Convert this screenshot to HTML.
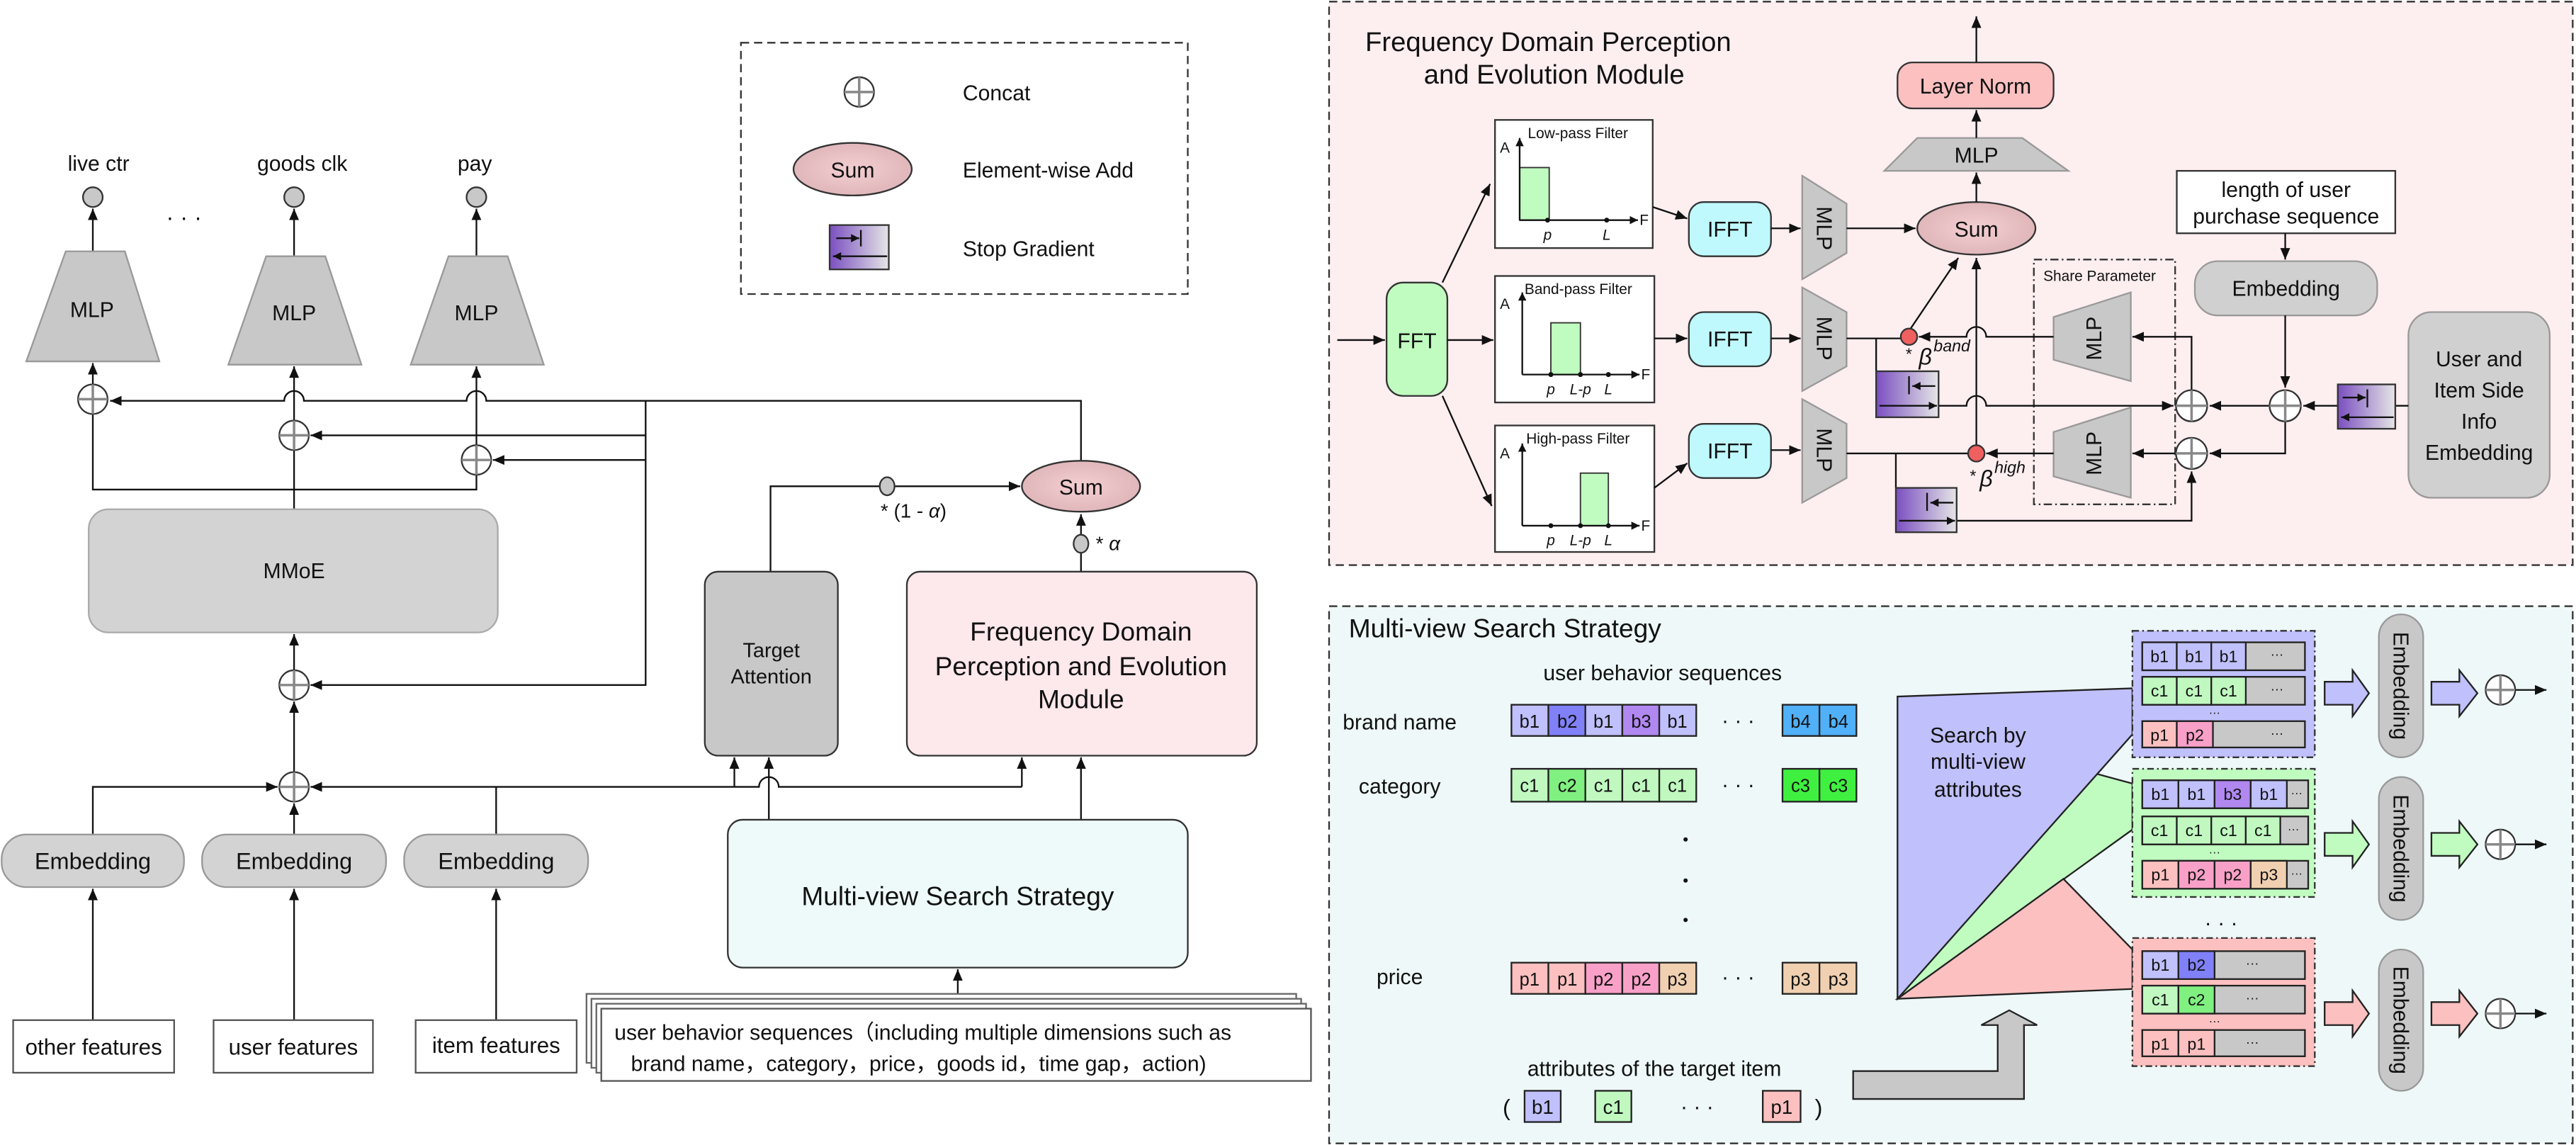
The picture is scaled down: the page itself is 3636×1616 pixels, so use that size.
<!DOCTYPE html>
<html><head><meta charset="utf-8"><style>
html,body{margin:0;padding:0;background:#fff;}
svg{display:block;}
text{font-family:"Liberation Sans","Noto Sans CJK SC",sans-serif;fill:#111;}
</style></head><body>
<svg width="3636" height="1616" viewBox="0 0 1568 697" preserveAspectRatio="none" xmlns="http://www.w3.org/2000/svg">
<defs>
<marker id="a" markerWidth="8" markerHeight="8" refX="7" refY="3" orient="auto" markerUnits="userSpaceOnUse"><path d="M0,0 L7,3 L0,6z" fill="#111"/></marker>
<marker id="s" markerWidth="6" markerHeight="6" refX="5" refY="2.5" orient="auto" markerUnits="userSpaceOnUse"><path d="M0,0 L5,2.5 L0,5z" fill="#111"/></marker>
<g id="cc"><circle r="9" fill="#fff" stroke="#333" stroke-width="1"/><line x1="-9" y1="0" x2="9" y2="0" stroke="#888" stroke-width="1.5"/><line x1="0" y1="-9" x2="0" y2="9" stroke="#888" stroke-width="1.5"/></g>
<g id="cs"><circle r="9.5" fill="#fff" stroke="#333" stroke-width="1"/><line x1="-9.5" y1="0" x2="9.5" y2="0" stroke="#888" stroke-width="1.5"/><line x1="0" y1="-9.5" x2="0" y2="9.5" stroke="#888" stroke-width="1.5"/></g>
<linearGradient id="sg" x1="0" y1="0" x2="1" y2="0"><stop offset="0" stop-color="#7a4fc0"/><stop offset="1" stop-color="#e6e6e6"/></linearGradient>
<radialGradient id="sum" cx="0.5" cy="0.5" r="0.6"><stop offset="0" stop-color="#f3cfd2"/><stop offset="1" stop-color="#dcb2b6"/></radialGradient>
</defs>

<!-- ===== LEFT ===== -->
<rect x="451" y="26" width="272" height="153" fill="none" stroke="#333" stroke-dasharray="5,3"/>
<use href="#cc" x="523" y="56"/>
<text x="586" y="61" font-size="13">Concat</text>
<ellipse cx="519" cy="103" rx="36" ry="16" fill="url(#sum)" stroke="#333"/>
<text x="519" y="108" font-size="13" text-anchor="middle">Sum</text>
<text x="586" y="108" font-size="13">Element-wise Add</text>
<rect x="505" y="137" width="36" height="27" fill="url(#sg)" stroke="#333"/>
<line x1="524" y1="140" x2="524" y2="150" stroke="#111"/>
<path d="M509,145 H523" stroke="#111" marker-end="url(#s)"/>
<path d="M540,156 H507" stroke="#111" marker-end="url(#s)"/>
<text x="586" y="156" font-size="13">Stop Gradient</text>

<text x="60" y="104" font-size="13" text-anchor="middle">live ctr</text>
<text x="184" y="104" font-size="13" text-anchor="middle">goods clk</text>
<text x="289" y="104" font-size="13" text-anchor="middle">pay</text>
<circle cx="56.5" cy="120" r="6" fill="#c8c8c8" stroke="#333"/>
<circle cx="179" cy="120" r="6" fill="#c8c8c8" stroke="#333"/>
<circle cx="290" cy="120" r="6" fill="#c8c8c8" stroke="#333"/>
<text x="112" y="137" font-size="14" text-anchor="middle">· · ·</text>
<g stroke="#111" fill="none">
<path d="M56.5,153 V127" marker-end="url(#a)"/>
<path d="M179,156 V127" marker-end="url(#a)"/>
<path d="M290,156 V127" marker-end="url(#a)"/>
</g>
<polygon points="40,153 76,153 97,220 16,220" fill="#c8c8c8" stroke="#999"/>
<polygon points="162,156 198,156 220,222 139,222" fill="#c8c8c8" stroke="#999"/>
<polygon points="273,156 309,156 331,222 250,222" fill="#c8c8c8" stroke="#999"/>
<text x="56" y="193" font-size="13" text-anchor="middle">MLP</text>
<text x="179" y="195" font-size="13" text-anchor="middle">MLP</text>
<text x="290" y="195" font-size="13" text-anchor="middle">MLP</text>

<g stroke="#111" fill="none" stroke-width="1">
<path d="M658,281 V244 H296 A6,6 0 0 0 284,244 H185 A6,6 0 0 0 173,244 H67" marker-end="url(#a)"/>
<path d="M393,244 V417 H189" marker-end="url(#a)"/>
<path d="M393,265 H189" marker-end="url(#a)"/>
<path d="M393,280 H300" marker-end="url(#a)"/>
<path d="M56.5,252 V298 H290 V289"/>
<path d="M179,310 V274"/>
<path d="M179,256 V223" marker-end="url(#a)"/>
<path d="M290,271 V223" marker-end="url(#a)"/>
<path d="M56.5,234 V221" marker-end="url(#a)"/>
<path d="M179,408 V386" marker-end="url(#a)"/>
<path d="M179,470 V427" marker-end="url(#a)"/>
<path d="M56.5,508 V479 H169" marker-end="url(#a)"/>
<path d="M179,508 V489" marker-end="url(#a)"/>
<path d="M622,479 H474 A6,6 0 0 0 462,479 H189" marker-end="url(#a)"/>
<path d="M302,508 V479"/>
<path d="M447,479 V461" marker-end="url(#a)"/>
<path d="M622,479 V461" marker-end="url(#a)"/>
<path d="M468,499 V461" marker-end="url(#a)"/>
<path d="M658,499 V461" marker-end="url(#a)"/>
<path d="M469,348 V296 H621" marker-end="url(#a)"/>
<path d="M658,348 V313" marker-end="url(#a)"/>
<path d="M56.5,621 V541" marker-end="url(#a)"/>
<path d="M179,621 V541" marker-end="url(#a)"/>
<path d="M302,621 V541" marker-end="url(#a)"/>
<path d="M583,616 V590" marker-end="url(#a)"/>
</g>
<use href="#cc" x="56.5" y="243"/>
<use href="#cc" x="179" y="265"/>
<use href="#cc" x="290" y="280"/>
<use href="#cc" x="179" y="417"/>
<use href="#cc" x="179" y="479"/>

<rect x="54" y="310" width="249" height="75" rx="12" fill="#d3d3d3" stroke="#aaa"/>
<text x="179" y="352" font-size="13" text-anchor="middle">MMoE</text>

<rect x="1" y="508" width="111" height="32" rx="15" fill="#d3d3d3" stroke="#999"/>
<rect x="123" y="508" width="112" height="32" rx="15" fill="#d3d3d3" stroke="#999"/>
<rect x="246" y="508" width="112" height="32" rx="15" fill="#d3d3d3" stroke="#999"/>
<text x="56.5" y="529" font-size="14" text-anchor="middle">Embedding</text>
<text x="179" y="529" font-size="14" text-anchor="middle">Embedding</text>
<text x="302" y="529" font-size="14" text-anchor="middle">Embedding</text>

<rect x="8" y="621" width="98" height="32" fill="#fff" stroke="#555"/>
<rect x="130" y="621" width="97" height="32" fill="#fff" stroke="#555"/>
<rect x="253" y="621" width="98" height="32" fill="#fff" stroke="#555"/>
<text x="57" y="642" font-size="13.5" text-anchor="middle">other features</text>
<text x="178.5" y="642" font-size="13.5" text-anchor="middle">user features</text>
<text x="302" y="641" font-size="13.5" text-anchor="middle">item features</text>

<ellipse cx="540" cy="296" rx="4.5" ry="5.5" fill="#c8c8c8" stroke="#333"/>
<text x="536" y="315" font-size="12">* (1  -  <tspan font-style="italic">α</tspan>)</text>
<ellipse cx="658" cy="331" rx="4.5" ry="5.5" fill="#c8c8c8" stroke="#333"/>
<text x="667" y="335" font-size="12">* <tspan font-style="italic">α</tspan></text>
<ellipse cx="658" cy="296" rx="36" ry="15.5" fill="url(#sum)" stroke="#333"/>
<text x="658" y="301" font-size="13" text-anchor="middle">Sum</text>

<rect x="429" y="348" width="81" height="112" rx="8" fill="#c8c8c8" stroke="#333"/>
<text x="469.5" y="400" font-size="12.5" text-anchor="middle">Target</text>
<text x="469.5" y="416" font-size="12.5" text-anchor="middle">Attention</text>
<rect x="552" y="348" width="213" height="112" rx="8" fill="#fde8ec" stroke="#333"/>
<text x="658" y="390" font-size="16" text-anchor="middle">Frequency Domain</text>
<text x="658" y="411" font-size="16" text-anchor="middle">Perception and Evolution</text>
<text x="658" y="431" font-size="16" text-anchor="middle">Module</text>
<rect x="443" y="499" width="280" height="90" rx="9" fill="#eefafa" stroke="#333"/>
<text x="583" y="551" font-size="16" text-anchor="middle">Multi-view Search Strategy</text>

<rect x="357" y="605" width="432" height="42" fill="#fff" stroke="#666"/>
<rect x="360" y="608" width="432" height="42" fill="#fff" stroke="#666"/>
<rect x="363" y="611" width="432" height="42" fill="#fff" stroke="#666"/>
<rect x="366" y="614" width="432" height="44" fill="#fff" stroke="#555"/>
<text x="374" y="633" font-size="13">user behavior sequences（including multiple dimensions such as</text>
<text x="384" y="652" font-size="13">brand name，category，price，goods id，time gap，action)</text>

<!-- ===== TOP RIGHT ===== -->
<rect x="809" y="1" width="757" height="343" fill="#fdeef0" stroke="#333" stroke-dasharray="5,3"/>
<text x="831" y="31" font-size="16.5">Frequency Domain Perception</text>
<text x="946" y="51" font-size="16.5" text-anchor="middle">and Evolution Module</text>

<rect x="1155" y="38" width="95" height="28" rx="9" fill="#fcc0c0" stroke="#333"/>
<text x="1202.5" y="57" font-size="13" text-anchor="middle">Layer Norm</text>
<polygon points="1167,84 1231,84 1259,104 1147,104" fill="#c8c8c8" stroke="#999"/>
<text x="1203" y="99" font-size="13" text-anchor="middle">MLP</text>
<ellipse cx="1203" cy="139" rx="36" ry="16" fill="url(#sum)" stroke="#333"/>
<text x="1203" y="144" font-size="13" text-anchor="middle">Sum</text>

<!-- filters -->
<g font-size="9">
<rect x="910" y="73" width="96" height="78" fill="#fff" stroke="#333"/>
<text x="930" y="84">Low-pass Filter</text><text x="913" y="93">A</text>
<rect x="925" y="102" width="18" height="32" fill="#c0fcc0" stroke="#333" stroke-width="0.8"/>
<path d="M925,134 V84" stroke="#111" marker-end="url(#s)"/>
<path d="M925,134 H997" stroke="#111" marker-end="url(#s)"/>
<text x="998" y="137">F</text>
<circle cx="942" cy="134" r="1.5" fill="#111"/><circle cx="978" cy="134" r="1.5" fill="#111"/>
<text x="942" y="146" font-style="italic" text-anchor="middle">p</text><text x="978" y="146" font-style="italic" text-anchor="middle">L</text>

<rect x="910" y="168" width="97" height="77" fill="#fff" stroke="#333"/>
<text x="928" y="179">Band-pass Filter</text><text x="913" y="188">A</text>
<rect x="944" y="196.5" width="18" height="31.5" fill="#c0fcc0" stroke="#333" stroke-width="0.8"/>
<path d="M926.6,228 V178" stroke="#111" marker-end="url(#s)"/>
<path d="M926.6,228 H998" stroke="#111" marker-end="url(#s)"/>
<text x="999" y="231">F</text>
<circle cx="944" cy="228" r="1.5" fill="#111"/><circle cx="962" cy="228" r="1.5" fill="#111"/><circle cx="979" cy="228" r="1.5" fill="#111"/>
<text x="944" y="240" font-style="italic" text-anchor="middle">p</text><text x="962" y="240" font-style="italic" text-anchor="middle">L-p</text><text x="979" y="240" font-style="italic" text-anchor="middle">L</text>

<rect x="910" y="259" width="97" height="77" fill="#fff" stroke="#333"/>
<text x="929" y="270">High-pass Filter</text><text x="913" y="279">A</text>
<rect x="962" y="288" width="17" height="32" fill="#c0fcc0" stroke="#333" stroke-width="0.8"/>
<path d="M926.6,320 V270" stroke="#111" marker-end="url(#s)"/>
<path d="M926.6,320 H998" stroke="#111" marker-end="url(#s)"/>
<text x="999" y="323">F</text>
<circle cx="944" cy="320" r="1.5" fill="#111"/><circle cx="962" cy="320" r="1.5" fill="#111"/><circle cx="979" cy="320" r="1.5" fill="#111"/>
<text x="944" y="332" font-style="italic" text-anchor="middle">p</text><text x="962" y="332" font-style="italic" text-anchor="middle">L-p</text><text x="979" y="332" font-style="italic" text-anchor="middle">L</text>
</g>

<rect x="844" y="172" width="37" height="69" rx="10" fill="#c0fcc0" stroke="#333"/>
<text x="862.5" y="212" font-size="13" text-anchor="middle">FFT</text>
<rect x="1028" y="123" width="50" height="33" rx="9" fill="#bff9fd" stroke="#333"/>
<rect x="1028" y="190" width="50" height="33" rx="9" fill="#bff9fd" stroke="#333"/>
<rect x="1028" y="258" width="50" height="33" rx="9" fill="#bff9fd" stroke="#333"/>
<text x="1053" y="144" font-size="13" text-anchor="middle">IFFT</text>
<text x="1053" y="211" font-size="13" text-anchor="middle">IFFT</text>
<text x="1053" y="279" font-size="13" text-anchor="middle">IFFT</text>

<polygon points="1097,107 1124,124 1124,154 1097,170" fill="#c8c8c8" stroke="#999"/>
<polygon points="1097,175 1124,190 1124,223 1097,238" fill="#c8c8c8" stroke="#999"/>
<polygon points="1097,243 1124,258 1124,291 1097,306" fill="#c8c8c8" stroke="#999"/>
<text transform="translate(1106,139) rotate(90)" font-size="13" text-anchor="middle">MLP</text>
<text transform="translate(1106,206) rotate(90)" font-size="13" text-anchor="middle">MLP</text>
<text transform="translate(1106,274) rotate(90)" font-size="13" text-anchor="middle">MLP</text>

<rect x="1238" y="158" width="86" height="149" fill="none" stroke="#333" stroke-dasharray="5,2,1,2"/>
<text x="1278" y="171" font-size="9" text-anchor="middle">Share Parameter</text>
<polygon points="1250,193 1297,178 1297,232 1250,219" fill="#c8c8c8" stroke="#999"/>
<polygon points="1250,263 1297,248 1297,303 1250,290" fill="#c8c8c8" stroke="#999"/>
<text transform="translate(1279,206) rotate(-90)" font-size="13" text-anchor="middle">MLP</text>
<text transform="translate(1279,276) rotate(-90)" font-size="13" text-anchor="middle">MLP</text>

<rect x="1325" y="104" width="133" height="38" fill="#fff" stroke="#333"/>
<text x="1391.5" y="120" font-size="13" text-anchor="middle">length of user</text>
<text x="1391.5" y="136" font-size="13" text-anchor="middle">purchase sequence</text>
<rect x="1336" y="159" width="111" height="33" rx="14" fill="#d0d0d0" stroke="#999"/>
<text x="1391.5" y="180" font-size="13" text-anchor="middle">Embedding</text>
<rect x="1466" y="190" width="86" height="113" rx="14" fill="#d0d0d0" stroke="#999"/>
<text x="1509" y="223" font-size="13" text-anchor="middle">User and</text>
<text x="1509" y="242" font-size="13" text-anchor="middle">Item Side</text>
<text x="1509" y="261" font-size="13" text-anchor="middle">Info</text>
<text x="1509" y="280" font-size="13" text-anchor="middle">Embedding</text>

<g stroke="#111" fill="none">
<path d="M1203,123 V105" marker-end="url(#a)"/>
<path d="M1203,84 V67" marker-end="url(#a)"/>
<path d="M1203,38 V10" marker-end="url(#a)"/>
<path d="M814,207 H843" marker-end="url(#a)"/>
<path d="M881,207 H909" marker-end="url(#a)"/>
<path d="M878,172 L907,112" marker-end="url(#a)"/>
<path d="M878,241 L908,308" marker-end="url(#a)"/>
<path d="M1006,126 L1027,133" marker-end="url(#a)"/>
<path d="M1007,206 H1027" marker-end="url(#a)"/>
<path d="M1007,297 L1027,282" marker-end="url(#a)"/>
<path d="M1078,139 H1096" marker-end="url(#a)"/>
<path d="M1078,206 H1096" marker-end="url(#a)"/>
<path d="M1078,274 H1096" marker-end="url(#a)"/>
<path d="M1124,139 H1166" marker-end="url(#a)"/>
<path d="M1124,206 H1157"/>
<path d="M1163,200 L1192,157" marker-end="url(#a)"/>
<path d="M1142,206 V226"/>
<path d="M1180,247 H1197 A6,6 0 0 1 1209,247 H1323" marker-end="url(#a)"/>
<path d="M1124,276 H1198"/>
<path d="M1203,271 V157" marker-end="url(#a)"/>
<path d="M1250,205 H1209 A6,6 0 0 0 1197,205 H1168" marker-end="url(#a)"/>
<path d="M1154,276 V297"/>
<path d="M1191,317 H1334 V287" marker-end="url(#a)"/>
<path d="M1324,276 H1298" marker-end="url(#a)"/>
<path d="M1250,276 H1209" marker-end="url(#a)"/>
<path d="M1334,237 V205 H1298" marker-end="url(#a)"/>
<path d="M1381,247 H1345" marker-end="url(#a)"/>
<path d="M1391,257 V276 H1345" marker-end="url(#a)"/>
<path d="M1391,192 V236" marker-end="url(#a)"/>
<path d="M1391,142 V158" marker-end="url(#a)"/>
<path d="M1423,247 H1402" marker-end="url(#a)"/>
<path d="M1466,247 H1458"/>
</g>
<circle cx="1162" cy="205" r="5" fill="#f06060" stroke="#333"/>
<circle cx="1203" cy="276" r="5" fill="#f06060" stroke="#333"/>
<text x="1160" y="219" font-size="10">*</text><text x="1168" y="222" font-size="14" font-style="italic">β</text><text x="1177" y="214" font-size="10" font-style="italic">band</text>
<text x="1199" y="293" font-size="10">*</text><text x="1205" y="296" font-size="14" font-style="italic">β</text><text x="1214" y="288" font-size="10" font-style="italic">high</text>
<use href="#cs" x="1334" y="247"/>
<use href="#cs" x="1391" y="247"/>
<use href="#cs" x="1334" y="276"/>
<!-- stop icons -->
<rect x="1142" y="226" width="38" height="28" fill="url(#sg)" stroke="#333"/>
<line x1="1162" y1="229" x2="1162" y2="240" stroke="#111"/>
<path d="M1178,235 H1164" stroke="#111" marker-end="url(#s)"/>
<path d="M1144,247 H1179" stroke="#111" marker-end="url(#s)"/>
<rect x="1154" y="297" width="37" height="27" fill="url(#sg)" stroke="#333"/>
<line x1="1173" y1="300" x2="1173" y2="311" stroke="#111"/>
<path d="M1189,306 H1175" stroke="#111" marker-end="url(#s)"/>
<path d="M1156,317 H1190" stroke="#111" marker-end="url(#s)"/>
<rect x="1423" y="234" width="35" height="27" fill="url(#sg)" stroke="#333"/>
<line x1="1441" y1="237" x2="1441" y2="248" stroke="#111"/>
<path d="M1426,242 H1440" stroke="#111" marker-end="url(#s)"/>
<path d="M1457,254 H1425" stroke="#111" marker-end="url(#s)"/>

<!-- ===== BOTTOM RIGHT ===== -->
<rect x="809" y="369" width="757" height="327" fill="#eef8f8" stroke="#333" stroke-dasharray="5,3"/>
<text x="821" y="388" font-size="16">Multi-view Search Strategy</text>
<text x="1012" y="414" font-size="13" text-anchor="middle">user behavior sequences</text>
<text x="852" y="444" font-size="13" text-anchor="middle">brand name</text>
<text x="852" y="483" font-size="13" text-anchor="middle">category</text>
<text x="852" y="599" font-size="13" text-anchor="middle">price</text>

<g font-size="11" text-anchor="middle" stroke-width="1">
<!-- brand row -->
<rect x="920" y="429" width="22.5" height="19" fill="#c0c0fc" stroke="#222"/><text x="931" y="443">b1</text>
<rect x="942.5" y="429" width="22.5" height="19" fill="#8080f8" stroke="#222"/><text x="954" y="443">b2</text>
<rect x="965" y="429" width="22.5" height="19" fill="#c0c0fc" stroke="#222"/><text x="976" y="443">b1</text>
<rect x="987.5" y="429" width="22.5" height="19" fill="#b088f0" stroke="#222"/><text x="999" y="443">b3</text>
<rect x="1010" y="429" width="22.5" height="19" fill="#c0c0fc" stroke="#222"/><text x="1021" y="443">b1</text>
<rect x="1085" y="429" width="22.5" height="19" fill="#50b0f8" stroke="#222"/><text x="1096" y="443">b4</text>
<rect x="1107.5" y="429" width="22.5" height="19" fill="#50b0f8" stroke="#222"/><text x="1119" y="443">b4</text>
<!-- category -->
<rect x="920" y="468" width="22.5" height="20" fill="#c0f8c0" stroke="#222"/><text x="931" y="482">c1</text>
<rect x="942.5" y="468" width="22.5" height="20" fill="#80f080" stroke="#222"/><text x="954" y="482">c2</text>
<rect x="965" y="468" width="22.5" height="20" fill="#c0f8c0" stroke="#222"/><text x="976" y="482">c1</text>
<rect x="987.5" y="468" width="22.5" height="20" fill="#c0f8c0" stroke="#222"/><text x="999" y="482">c1</text>
<rect x="1010" y="468" width="22.5" height="20" fill="#c0f8c0" stroke="#222"/><text x="1021" y="482">c1</text>
<rect x="1085" y="468" width="22.5" height="20" fill="#40f040" stroke="#222"/><text x="1096" y="482">c3</text>
<rect x="1107.5" y="468" width="22.5" height="20" fill="#40f040" stroke="#222"/><text x="1119" y="482">c3</text>
<!-- price -->
<rect x="920" y="586" width="22.5" height="19" fill="#fcc0c0" stroke="#222"/><text x="931" y="600">p1</text>
<rect x="942.5" y="586" width="22.5" height="19" fill="#fcc0c0" stroke="#222"/><text x="954" y="600">p1</text>
<rect x="965" y="586" width="22.5" height="19" fill="#f8a0c8" stroke="#222"/><text x="976" y="600">p2</text>
<rect x="987.5" y="586" width="22.5" height="19" fill="#f8a0c8" stroke="#222"/><text x="999" y="600">p2</text>
<rect x="1010" y="586" width="22.5" height="19" fill="#f0d0b0" stroke="#222"/><text x="1021" y="600">p3</text>
<rect x="1085" y="586" width="22.5" height="19" fill="#f0d0b0" stroke="#222"/><text x="1096" y="600">p3</text>
<rect x="1107.5" y="586" width="22.5" height="19" fill="#f0d0b0" stroke="#222"/><text x="1119" y="600">p3</text>
</g>
<text x="1058" y="443" font-size="13" text-anchor="middle">· · ·</text>
<text x="1058" y="482" font-size="13" text-anchor="middle">· · ·</text>
<text x="1058" y="599" font-size="13" text-anchor="middle">· · ·</text>
<circle cx="1026" cy="511" r="1.3" fill="#111"/><circle cx="1026" cy="536" r="1.3" fill="#111"/><circle cx="1026" cy="560" r="1.3" fill="#111"/>

<!-- triangles -->
<polygon points="1155,608 1276,471 1298,477 1298,505" fill="#c0fcc0" stroke="#222"/>
<polygon points="1155,608 1256,535 1298,578 1298,602" fill="#fcc0c0" stroke="#222"/>
<polygon points="1155,424 1298,419 1298,447 1155,608" fill="#c0c0fc" stroke="#222"/>
<text x="1204" y="452" font-size="13" text-anchor="middle">Search by</text>
<text x="1204" y="468" font-size="13" text-anchor="middle">multi-view</text>
<text x="1204" y="485" font-size="13" text-anchor="middle">attributes</text>

<polygon points="1128,652 1216,652 1216,624 1206,624 1223,615 1240,624 1232,624 1232,669 1128,669" fill="#c8c8c8" stroke="#222"/>
<text x="1007" y="655" font-size="13" text-anchor="middle">attributes of the target item</text>
<text x="917" y="679" font-size="14" text-anchor="middle">(</text>
<text x="1107" y="679" font-size="14" text-anchor="middle">)</text>
<rect x="928" y="664" width="22" height="19" fill="#c0c0fc" stroke="#222"/><text x="939" y="678" font-size="12" text-anchor="middle">b1</text>
<rect x="971" y="664" width="22" height="19" fill="#c0f8c0" stroke="#222"/><text x="982" y="678" font-size="12" text-anchor="middle">c1</text>
<text x="1033" y="678" font-size="13" text-anchor="middle">· · ·</text>
<rect x="1073" y="664" width="23" height="19" fill="#fcc0c0" stroke="#222"/><text x="1084.5" y="678" font-size="12" text-anchor="middle">p1</text>

<!-- groups -->
<rect x="1298" y="384" width="111" height="77" fill="#c0c0fc" stroke="#333" stroke-dasharray="4,2,1,2"/>
<rect x="1298" y="468" width="111" height="78" fill="#c0fcc0" stroke="#333" stroke-dasharray="4,2,1,2"/>
<rect x="1298" y="571" width="111" height="78" fill="#fcc0c0" stroke="#333" stroke-dasharray="4,2,1,2"/>
<g font-size="10" text-anchor="middle">
<!-- g1 -->
<rect x="1304" y="391" width="99" height="17" fill="#c8c8c8" stroke="#222"/>
<rect x="1304" y="391" width="21" height="17" fill="#c0c0fc" stroke="#222"/><text x="1314.5" y="403">b1</text>
<rect x="1325" y="391" width="21" height="17" fill="#c0c0fc" stroke="#222"/><text x="1335.5" y="403">b1</text>
<rect x="1346" y="391" width="21" height="17" fill="#c0c0fc" stroke="#222"/><text x="1356.5" y="403">b1</text>
<text x="1386" y="401" font-size="8">···</text>
<rect x="1304" y="412" width="99" height="17" fill="#c8c8c8" stroke="#222"/>
<rect x="1304" y="412" width="21" height="17" fill="#c0f8c0" stroke="#222"/><text x="1314.5" y="424">c1</text>
<rect x="1325" y="412" width="21" height="17" fill="#c0f8c0" stroke="#222"/><text x="1335.5" y="424">c1</text>
<rect x="1346" y="412" width="21" height="17" fill="#c0f8c0" stroke="#222"/><text x="1356.5" y="424">c1</text>
<text x="1386" y="422" font-size="8">···</text>
<text x="1348" y="436" font-size="7">···</text>
<rect x="1304" y="439" width="99" height="16" fill="#c8c8c8" stroke="#222"/>
<rect x="1304" y="439" width="21" height="16" fill="#fcc0c0" stroke="#222"/><text x="1314.5" y="451">p1</text>
<rect x="1325" y="439" width="22" height="16" fill="#f8a0c8" stroke="#222"/><text x="1336" y="451">p2</text>
<text x="1386" y="449" font-size="8">···</text>
<!-- g2 -->
<rect x="1304" y="475" width="101" height="17" fill="#c8c8c8" stroke="#222"/>
<rect x="1304" y="475" width="22" height="17" fill="#c0c0fc" stroke="#222"/><text x="1315" y="487">b1</text>
<rect x="1326" y="475" width="22" height="17" fill="#c0c0fc" stroke="#222"/><text x="1337" y="487">b1</text>
<rect x="1348" y="475" width="22" height="17" fill="#b088f0" stroke="#222"/><text x="1359" y="487">b3</text>
<rect x="1370" y="475" width="22" height="17" fill="#c0c0fc" stroke="#222"/><text x="1381" y="487">b1</text>
<text x="1398" y="485" font-size="7">···</text>
<rect x="1304" y="497" width="101" height="17" fill="#c8c8c8" stroke="#222"/>
<rect x="1304" y="497" width="21" height="17" fill="#c0f8c0" stroke="#222"/><text x="1314.5" y="509">c1</text>
<rect x="1325" y="497" width="21" height="17" fill="#c0f8c0" stroke="#222"/><text x="1335.5" y="509">c1</text>
<rect x="1346" y="497" width="21" height="17" fill="#c0f8c0" stroke="#222"/><text x="1356.5" y="509">c1</text>
<rect x="1367" y="497" width="21" height="17" fill="#c0f8c0" stroke="#222"/><text x="1377.5" y="509">c1</text>
<text x="1396" y="507" font-size="7">···</text>
<text x="1348" y="521" font-size="7">···</text>
<rect x="1304" y="524" width="101" height="17" fill="#c8c8c8" stroke="#222"/>
<rect x="1304" y="524" width="22" height="17" fill="#fcc0c0" stroke="#222"/><text x="1315" y="536">p1</text>
<rect x="1326" y="524" width="22" height="17" fill="#f8a0c8" stroke="#222"/><text x="1337" y="536">p2</text>
<rect x="1348" y="524" width="22" height="17" fill="#f8a0c8" stroke="#222"/><text x="1359" y="536">p2</text>
<rect x="1370" y="524" width="22" height="17" fill="#f0d0b0" stroke="#222"/><text x="1381" y="536">p3</text>
<text x="1398" y="534" font-size="7">···</text>
<!-- g3 -->
<rect x="1304" y="579" width="99" height="17" fill="#c8c8c8" stroke="#222"/>
<rect x="1304" y="579" width="22" height="17" fill="#c0c0fc" stroke="#222"/><text x="1315" y="591">b1</text>
<rect x="1326" y="579" width="22" height="17" fill="#8080f8" stroke="#222"/><text x="1337" y="591">b2</text>
<text x="1371" y="589" font-size="8">···</text>
<rect x="1304" y="600" width="99" height="17" fill="#c8c8c8" stroke="#222"/>
<rect x="1304" y="600" width="22" height="17" fill="#c0f8c0" stroke="#222"/><text x="1315" y="612">c1</text>
<rect x="1326" y="600" width="22" height="17" fill="#80f080" stroke="#222"/><text x="1337" y="612">c2</text>
<text x="1371" y="610" font-size="8">···</text>
<text x="1348" y="624" font-size="7">···</text>
<rect x="1304" y="627" width="99" height="16" fill="#c8c8c8" stroke="#222"/>
<rect x="1304" y="627" width="22" height="16" fill="#fcc0c0" stroke="#222"/><text x="1315" y="639">p1</text>
<rect x="1326" y="627" width="22" height="16" fill="#fcc0c0" stroke="#222"/><text x="1337" y="639">p1</text>
<text x="1371" y="637" font-size="8">···</text>
</g>
<text x="1352" y="566" font-size="13" text-anchor="middle">· · ·</text>

<!-- block arrows / embeddings / concat -->
<g stroke="#222">
<polygon points="1415,415 1432,415 1432,408 1442,422 1432,436 1432,429 1415,429" fill="#c0c0fc"/>
<polygon points="1480,415 1497,415 1497,408 1508,422 1497,436 1497,429 1480,429" fill="#c0c0fc"/>
<polygon points="1415,507 1432,507 1432,500 1442,514 1432,528 1432,521 1415,521" fill="#c0fcc0"/>
<polygon points="1480,507 1497,507 1497,500 1508,514 1497,528 1497,521 1480,521" fill="#c0fcc0"/>
<polygon points="1415,610 1432,610 1432,603 1442,617 1432,631 1432,624 1415,624" fill="#fcc0c0"/>
<polygon points="1480,610 1497,610 1497,603 1508,617 1497,631 1497,624 1480,624" fill="#fcc0c0"/>
</g>
<rect x="1448" y="374" width="27" height="87" rx="13.5" fill="#c8c8c8" stroke="#999"/>
<rect x="1448" y="473" width="27" height="87" rx="13.5" fill="#c8c8c8" stroke="#999"/>
<rect x="1448" y="578" width="27" height="86" rx="13.5" fill="#c8c8c8" stroke="#999"/>
<text transform="translate(1457,417.5) rotate(90)" font-size="13" text-anchor="middle">Embedding</text>
<text transform="translate(1457,516.5) rotate(90)" font-size="13" text-anchor="middle">Embedding</text>
<text transform="translate(1457,621) rotate(90)" font-size="13" text-anchor="middle">Embedding</text>
<use href="#cc" x="1522" y="420"/>
<use href="#cc" x="1522" y="514"/>
<use href="#cc" x="1522" y="617"/>
<g stroke="#111">
<path d="M1531,420 H1550" marker-end="url(#a)"/>
<path d="M1531,514 H1550" marker-end="url(#a)"/>
<path d="M1531,617 H1550" marker-end="url(#a)"/>
</g>
</svg>
</body></html>
